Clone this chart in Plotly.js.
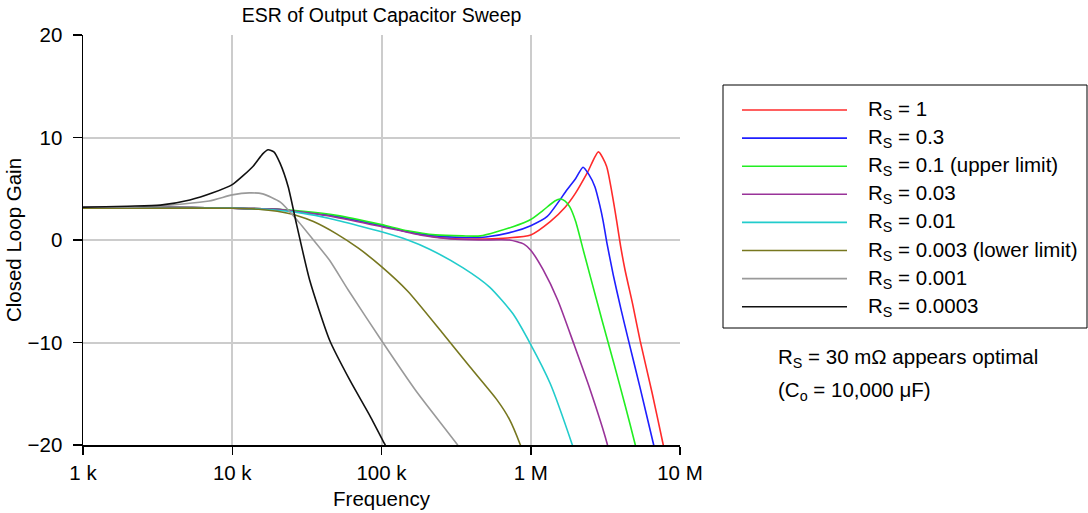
<!DOCTYPE html>
<html>
<head>
<meta charset="utf-8">
<script src="https://cdn.plot.ly/plotly-3.0.1.min.js"></script>
<style>html,body{margin:0;padding:0;background:#fff}#chart{width:1088px;height:513px}</style>
</head>
<body>
<div id="chart"></div>
<script>
// ---- data (frequency in Hz, closed loop gain in dB) ----
const seriesNames = ["R<sub>S</sub> = 1", "R<sub>S</sub> = 0.3", "R<sub>S</sub> = 0.1 (upper limit)", "R<sub>S</sub> = 0.03",
  "R<sub>S</sub> = 0.01", "R<sub>S</sub> = 0.003 (lower limit)", "R<sub>S</sub> = 0.001", "R<sub>S</sub> = 0.0003"];
const seriesColors = ["#ff2b2b", "#1f1fff", "#22ee22", "#993399", "#22cccc", "#77771f", "#9a9a9a", "#111111"];

const fR1 = [1e3,3e3,1e4,2e4,3e4,5e4,1e5,1.5e5,2.3e5,3.5e5,5e5,7e5,1e6,1.35e6,1.7e6,2e6,2.4e6,2.84e6,3.22e6,3.5e6,3.77e6,4.0e6,4.28e6,4.84e6,5.4e6,6.5e6,7.7e6,8.3e6];
const gR1 = [3.2,3.2,3.1,3.0,2.7,2.3,1.4,0.8,0.3,0.1,0.1,0.2,0.5,1.8,3.2,4.6,6.6,8.6,7.2,4.6,1.8,-0.6,-2.9,-6.4,-9.8,-14.9,-19.9,-22];

const fR03 = [1e3,3e3,1e4,2e4,3e4,5e4,1e5,1.5e5,2.3e5,3.5e5,5e5,7.6e5,1e6,1.29e6,1.75e6,2.0e6,2.24e6,2.45e6,2.69e6,2.9e6,3.06e6,3.23e6,3.57e6,4.0e6,4.5e6,5.4e6,6.64e6,7.2e6];
const gR03 = [3.2,3.2,3.1,3.0,2.7,2.3,1.4,0.8,0.4,0.25,0.3,0.8,1.4,2.3,4.9,6.0,7.1,6.4,5.2,3.4,1.8,-0.2,-3.4,-6.6,-9.7,-14.4,-19.9,-22];

const fR01 = [1e3,3e3,1e4,2e4,3e4,5e4,1e5,1.5e5,2.3e5,3.5e5,4.6e5,7.6e5,1.0e6,1.21e6,1.45e6,1.57e6,1.7e6,1.83e6,2.0e6,2.25e6,2.5e6,3.0e6,3.6e6,4.3e6,5.0e6,5.4e6];
const gR01 = [3.2,3.2,3.1,3.0,2.8,2.4,1.5,0.9,0.5,0.4,0.4,1.3,2.0,2.9,3.8,4.0,3.8,3.2,1.8,-1.0,-3.5,-7.8,-12.0,-16.2,-19.9,-22];

const fR003 = [1e3,3e3,1e4,2e4,3e4,5e4,1e5,1.8e5,2.9e5,4.5e5,7.2e5,9e5,1.0e6,1.21e6,1.52e6,1.94e6,2.5e6,3.24e6,3.5e6];
const gR003 = [3.2,3.2,3.1,3.0,2.7,2.2,1.3,0.5,0.1,0.0,0.0,-0.4,-1.0,-2.9,-5.9,-10.1,-14.6,-19.8,-22];

const fR001 = [1e3,3e3,1e4,2e4,3e4,4.5e4,7e4,1e5,1.5e5,2.1e5,3.5e5,5.3e5,7.6e5,1e6,1.35e6,1.89e6,2.1e6];
const gR001 = [3.1,3.1,3.1,2.9,2.6,2.1,1.4,0.8,0.0,-0.9,-2.7,-4.6,-7.2,-10.2,-14.0,-19.9,-22];

const fR0003 = [1e3,3e3,1e4,1.5e4,2e4,2.7e4,3.5e4,5e4,7e4,1e5,1.5e5,2.57e5,3.92e5,5.94e5,7.2e5,8.47e5,9.5e5];
const gR0003 = [3.1,3.1,3.1,3.0,2.8,2.4,1.8,0.6,-0.8,-2.6,-5.0,-9.1,-12.4,-15.6,-17.5,-19.9,-22];

const fR0001 = [1e3,3e3,7e3,1e4,1.3e4,1.6e4,2.1e4,2.7e4,3.5e4,4.5e4,6e4,1e5,1.7e5,3.2e5,3.6e5];
const gR0001 = [3.2,3.3,3.8,4.4,4.6,4.5,3.7,2.0,0.0,-2.0,-4.9,-9.8,-14.7,-19.9,-21];

const fR00003 = [1e3,2e3,3.3e3,5.2e3,7.4e3,1e4,1.38e4,1.6e4,1.74e4,1.9e4,2.09e4,2.37e4,2.7e4,3.3e4,4.5e4,6.15e4,8.4e4,1.05e5,1.15e5];
const gR00003 = [3.2,3.3,3.4,3.9,4.6,5.4,7.2,8.4,8.8,8.6,7.5,5.2,1.5,-3.9,-9.8,-13.7,-17.2,-19.9,-21];

const xTickVals = [1e3, 1e4, 1e5, 1e6, 1e7];
const xTickText = ["1 k", "10 k", "100 k", "1 M", "10 M"];
const yTickVals = [-20, -10, 0, 10, 20];
const yTickText = ["\u221220", "\u221210", "0", "10", "20"];

const titleText = "ESR of Output Capacitor Sweep";
const xTitle = "Frequency";
const yTitle = "Closed Loop Gain";
const note1 = "R<sub>S</sub> = 30 m\u03A9 appears optimal";
const note2 = "(C<sub>o</sub> = 10,000 \u03BCF)";

// ---- build ----
const xs = [fR1, fR03, fR01, fR003, fR001, fR0003, fR0001, fR00003];
const ys = [gR1, gR03, gR01, gR003, gR001, gR0003, gR0001, gR00003];

const traces = xs.map((x, i) => ({
  type: "scatter", mode: "lines", x: x, y: ys[i], name: seriesNames[i],
  line: {color: seriesColors[i], width: 1.6, shape: "spline", smoothing: 0.6},
  showlegend: false, hoverinfo: "skip"
}));

const W = 1088, H = 513, L = 83, R = 680, T = 35, B = 445;
const px = v => (v - L) / (R - L);
const py = v => (B - v) / (B - T);
const FONT = "Liberation Sans, Arial, sans-serif";
const FS = 20.5;

const shapes = [{type: "rect", xref: "paper", yref: "paper", x0: px(723), x1: px(1087), y0: py(85), y1: py(328),
  line: {color: "#000", width: 1}, fillcolor: "rgba(0,0,0,0)"}];
const annotations = [];
seriesNames.forEach((n, i) => {
  const yy = 110 + i * 28.1;
  shapes.push({type: "line", xref: "paper", yref: "paper", x0: px(742), x1: px(847), y0: py(yy), y1: py(yy),
    line: {color: seriesColors[i], width: 1.6}});
  annotations.push({xref: "paper", yref: "paper", x: px(866), y: py(yy), xanchor: "left", yanchor: "middle",
    text: n, showarrow: false, font: {family: FONT, size: FS, color: "#000"}});
});
annotations.push({xref: "paper", yref: "paper", x: px(776), y: py(358), xanchor: "left", yanchor: "middle",
  text: note1, showarrow: false, font: {family: FONT, size: FS, color: "#000"}});
annotations.push({xref: "paper", yref: "paper", x: px(776), y: py(391), xanchor: "left", yanchor: "middle",
  text: note2, showarrow: false, font: {family: FONT, size: FS, color: "#000"}});

const layout = {
  width: W, height: H, margin: {l: L, r: W - R, t: T, b: H - B, pad: 0},
  paper_bgcolor: "#fff", plot_bgcolor: "#fff",
  font: {family: FONT, size: FS, color: "#000"},
  title: {text: titleText, font: {family: FONT, size: 19.5}, x: ((L + R) / 2) / W, xanchor: "center",
    y: 1 - 15 / H, yanchor: "middle"},
  xaxis: {type: "log", range: [3, 7], tickvals: xTickVals, ticktext: xTickText,
    showgrid: true, gridcolor: "#cccccc", gridwidth: 2, showline: true, linecolor: "#000", linewidth: 1.5,
    ticks: "outside", ticklen: 8, tickcolor: "#000", tickwidth: 1.5, zeroline: false,
    tickfont: {family: FONT, size: FS}, ticklabelstandoff: 1,
    title: {text: xTitle, font: {family: FONT, size: FS}, standoff: 8}},
  yaxis: {range: [-20, 20], tickvals: yTickVals, ticktext: yTickText,
    showgrid: true, gridcolor: "#cccccc", gridwidth: 2, showline: true, linecolor: "#000", linewidth: 1.5,
    ticks: "outside", ticklen: 9, tickcolor: "#000", tickwidth: 1.5, zeroline: false,
    tickfont: {family: FONT, size: FS}, ticklabelstandoff: 6,
    title: {text: yTitle, font: {family: FONT, size: FS}, standoff: 0}},
  shapes: shapes, annotations: annotations, showlegend: false
};

Plotly.newPlot("chart", traces, layout, {displayModeBar: false, staticPlot: true});
</script>
</body>
</html>
